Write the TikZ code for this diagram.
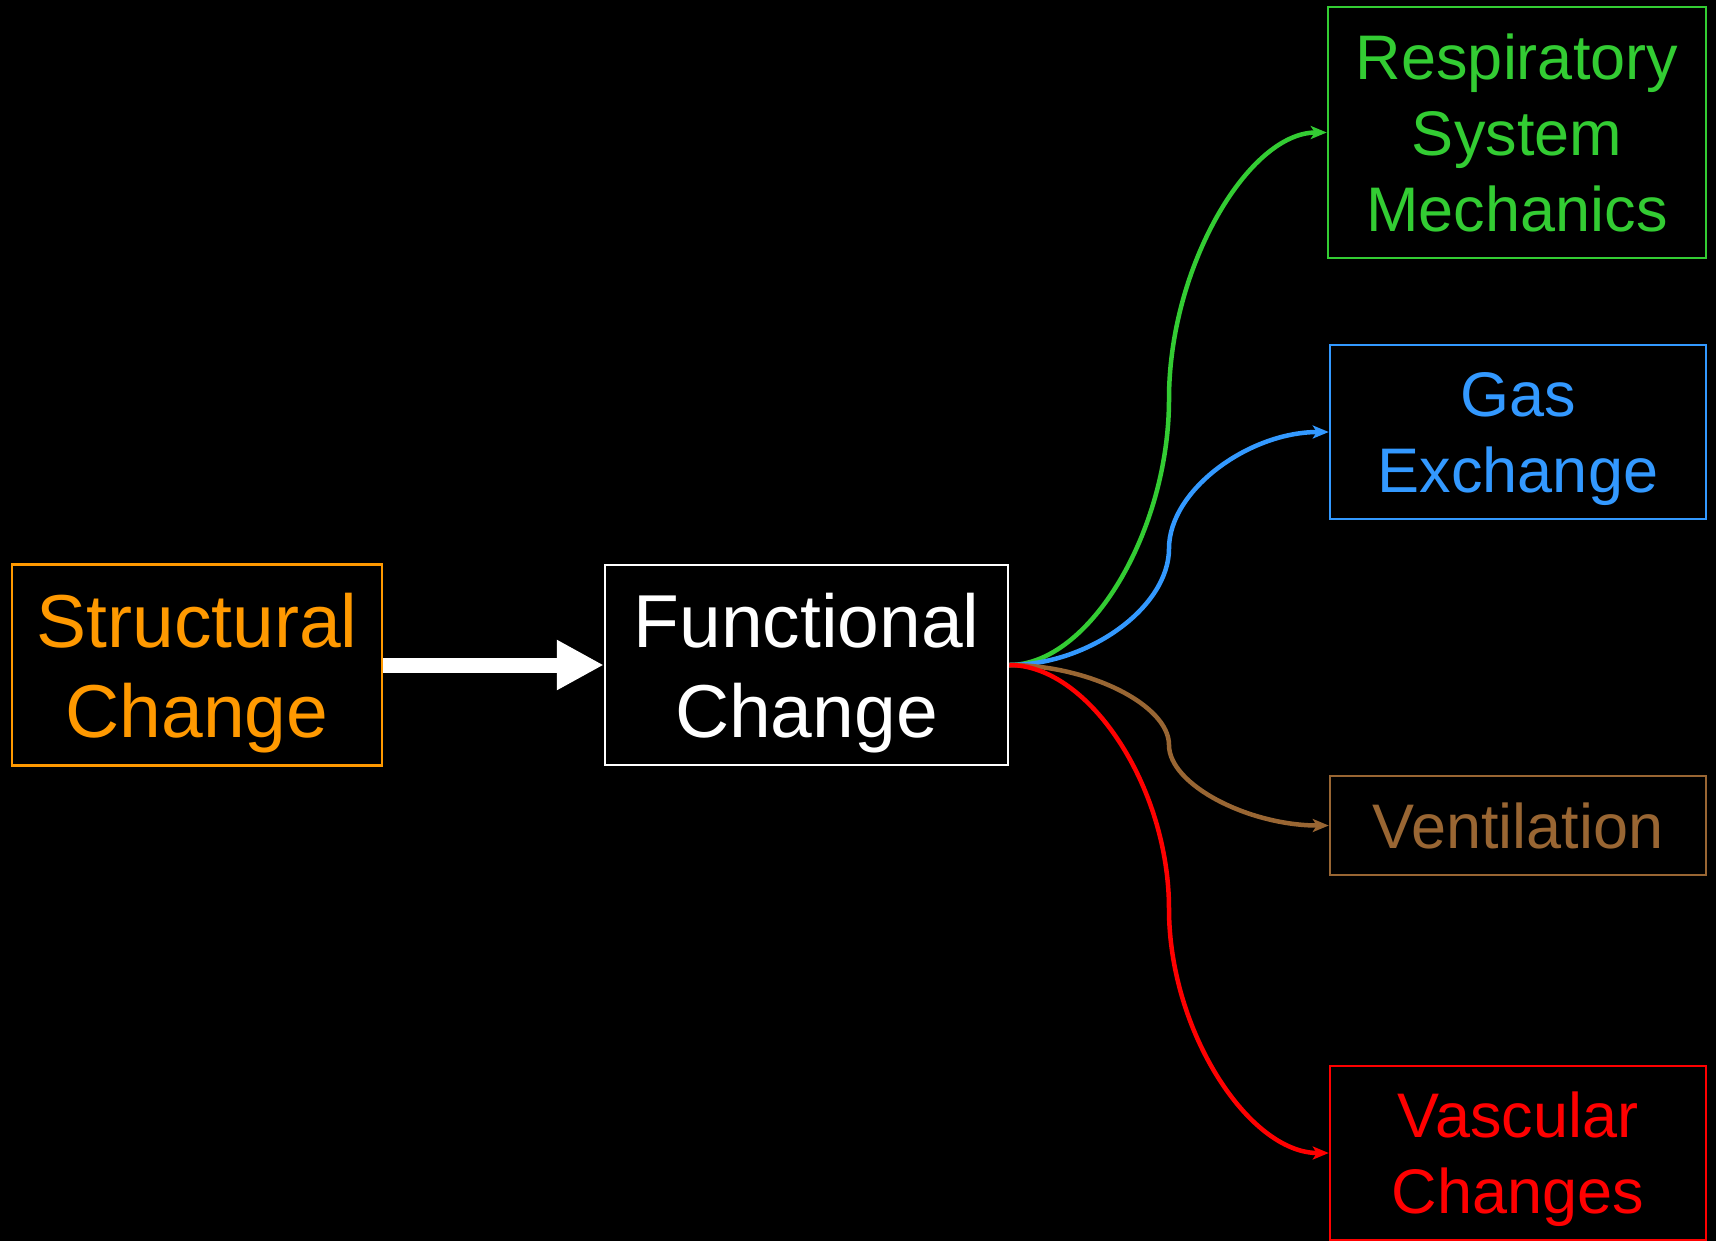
\documentclass[tikz,border=0pt]{standalone}
\usepackage{fontspec}
\setmainfont{Liberation Sans}
\usetikzlibrary{arrows.meta}
\definecolor{corange}{RGB}{255,153,0}
\definecolor{cgreen}{RGB}{51,204,51}
\definecolor{cblue}{RGB}{51,153,255}
\definecolor{cbrown}{RGB}{153,102,51}
\definecolor{cred}{RGB}{255,0,0}
\begin{document}
\begin{tikzpicture}[x=1bp,y=-1bp,
  box/.style={draw,line width=2.5bp,inner sep=0pt,align=center,text depth=0pt},
  big/.style={font=\fontsize{75bp}{90bp}\selectfont},
  small/.style={font=\fontsize{63bp}{76bp}\selectfont},
  conn/.style={line width=4.5bp,-{Stealth[length=16bp,width=13bp,inset=4bp]}}]
\fill[black] (0,0) rectangle (1716,1241);
\useasboundingbox (0,0) rectangle (1716,1241);
\node[box,big,draw=corange,text=corange,minimum width=370bp,minimum height=201bp] (S) at (197,665) {Structural\\Change};
\node[box,big,draw=white,text=white,minimum width=403bp,minimum height=200bp] (F) at (806.5,665) {Functional\\Change};
\node[box,small,draw=cgreen,text=cgreen,minimum width=378bp,minimum height=251bp] (R) at (1517,132.5) {Respiratory\\System\\Mechanics};
\node[box,small,draw=cblue,text=cblue,minimum width=376bp,minimum height=174bp] (G) at (1518,432) {Gas\\Exchange};
\node[box,small,draw=cbrown,text=cbrown,minimum width=376bp,minimum height=99bp] (V) at (1518,825.5) {Ventilation};
\node[box,small,draw=cred,text=cred,minimum width=376bp,minimum height=174bp] (C) at (1518,1153) {Vascular\\Changes};
\draw[white,line width=15bp,-{Triangle[length=47bp,width=47bp]}] (S.east) -- (F.west);
\draw[conn,cgreen] (F.east) .. controls (1089,665) and (1169,532) .. (1169,399) .. controls (1169,266) and (1249,132.5) .. (R.west);
\draw[conn,cblue] (F.east) .. controls (1089,665) and (1169,607) .. (1169,548.5) .. controls (1169,490) and (1249,432) .. (G.west);
\draw[conn,cbrown] (F.east) .. controls (1089,665) and (1169,705) .. (1169,745) .. controls (1169,785) and (1249,825.5) .. (V.west);
\draw[conn,cred] (F.east) .. controls (1089,665) and (1169,787) .. (1169,909) .. controls (1169,1031) and (1249,1153) .. (C.west);
\end{tikzpicture}
\end{document}
